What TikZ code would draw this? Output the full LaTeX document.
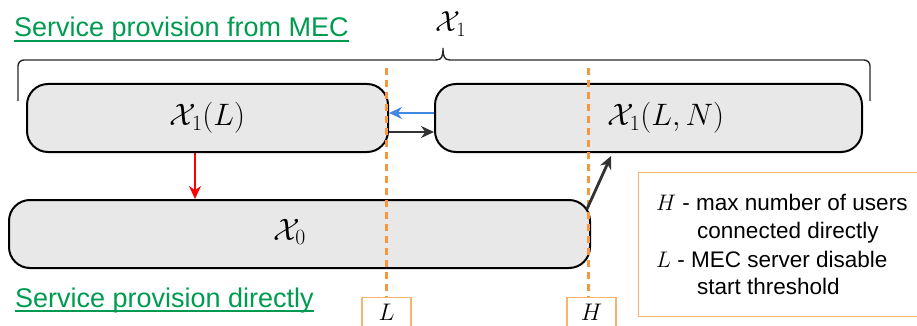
\RequirePackage{fix-cm}
\documentclass[tikz,border=0pt]{standalone}
\usepackage{fontspec}
\setmainfont{Liberation Sans}
\usetikzlibrary{arrows.meta,calc}
\definecolor{boxfill}{RGB}{232,232,232}
\definecolor{dashorange}{RGB}{247,150,60}
\definecolor{legorange}{RGB}{247,180,110}
\definecolor{mecgreen}{RGB}{0,155,80}
\definecolor{arrblue}{RGB}{66,135,225}
\definecolor{arrdark}{RGB}{50,50,50}
\definecolor{bracegray}{RGB}{40,40,40}
\tikzset{
  statebox/.style={draw=black, line width=2pt, fill=boxfill, rounded corners=21pt, inner sep=0pt},
  mathlbl/.style={font=\fontsize{31}{34}\selectfont, inner sep=0pt},
  greentxt/.style={text=mecgreen, font=\fontsize{27}{30}\selectfont, inner sep=0pt, anchor=base west},
  threshline/.style={draw=dashorange, line width=3pt, dash pattern=on 7pt off 5pt},
  thrbox/.style={draw=legorange, line width=1.1pt, fill=white, inner sep=0pt},
  legtxt/.style={font=\fontsize{22.5}{28.5}\selectfont, inner sep=0pt, anchor=base west},
  conn/.style={line width=2.8pt, -{Stealth[length=13pt,width=12pt]}},
}
\begin{document}
\begin{tikzpicture}[x=1pt,y=-1pt]
\useasboundingbox (0,0) rectangle (917,326);
% titles
\node[greentxt] (tmec) at (14,37) {Service provision from MEC};
\draw[mecgreen, line width=1.3pt] ([yshift=-4pt]tmec.base west) -- ([yshift=-4pt]tmec.base east);
\node[greentxt] (tdir) at (15,307) {Service provision directly};
\draw[mecgreen, line width=1.3pt] ([yshift=-4pt]tdir.base west) -- ([yshift=-4pt]tdir.base east);
% brace
\node[mathlbl, font=\fontsize{29}{32}\selectfont] (xone) at (451,24) {$\mathcal{X}_1$};
\coordinate (bl) at (18,101);
\coordinate (br) at (870,101);
\coordinate (bc) at (443,48);
\draw[bracegray, line width=1.4pt, rounded corners=6pt] (bl) -- (18,60) -- (436,60);
\draw[bracegray, line width=1.4pt] (436,60) .. controls (442,60) and (443,56) .. (bc) .. controls (443,56) and (444,60) .. (450,60);
\draw[bracegray, line width=1.4pt, rounded corners=6pt] (450,60) -- (870,60) -- (br);
% boxes
\node[statebox, minimum width=361pt, minimum height=68pt] (x1l) at (207.5,118) {};
\node[mathlbl] at (207.5,118) {$\mathcal{X}_1(L)$};
\node[statebox, minimum width=427pt, minimum height=68pt] (x1ln) at (648.5,118) {};
\node[mathlbl] at (666,118) {$\mathcal{X}_1(L,N)$};
\node[statebox, minimum width=581pt, minimum height=68pt] (x0) at (299.5,234) {};
\node[mathlbl] at (289.5,232) {$\mathcal{X}_0$};
% threshold markers
\node[thrbox, minimum width=49pt, minimum height=40pt, anchor=north] (lbox) at (386.5,297) {};
\node[mathlbl, font=\fontsize{24}{26}\selectfont] at (386.5,312) {$L$};
\node[thrbox, minimum width=49pt, minimum height=40pt, anchor=north] (hbox) at (591.5,297) {};
\node[mathlbl, font=\fontsize{24}{26}\selectfont] at (591.5,312) {$H$};
\coordinate (ltop) at (386.5,68);
\coordinate (htop) at (588,68);
\draw[threshline] (ltop) -- (lbox.north);
\draw[threshline] (htop) -- (588,297);
% legend
\node[draw=legorange, line width=1.1pt, minimum width=300pt, minimum height=144pt, anchor=north west, inner sep=0pt] (leg) at (638,172) {};
\node[legtxt] (lh1) at (656,210) {$H$ - max number of users};
\node[legtxt] (lh2) at (697,238) {connected directly};
\node[legtxt] (ll1) at (656,267) {$L$ - MEC server disable};
\node[legtxt] (ll2) at (697,294) {start threshold};
% arrows
\draw[conn, red, line width=2.4pt] (x1l.south -| 195,0) -- (x0.north -| 195,0);
\draw[conn, arrblue, line width=2.4pt] (x1ln.west |- 0,113) -- (x1l.east |- 0,113);
\draw[conn, arrdark] (x1l.east |- 0,132) -- (x1ln.west |- 0,132);
\coordinate (hs) at (587,209);
\coordinate (he) at (611,156);
\draw[conn, arrdark] (hs) -- (he);
\end{tikzpicture}
\end{document}
